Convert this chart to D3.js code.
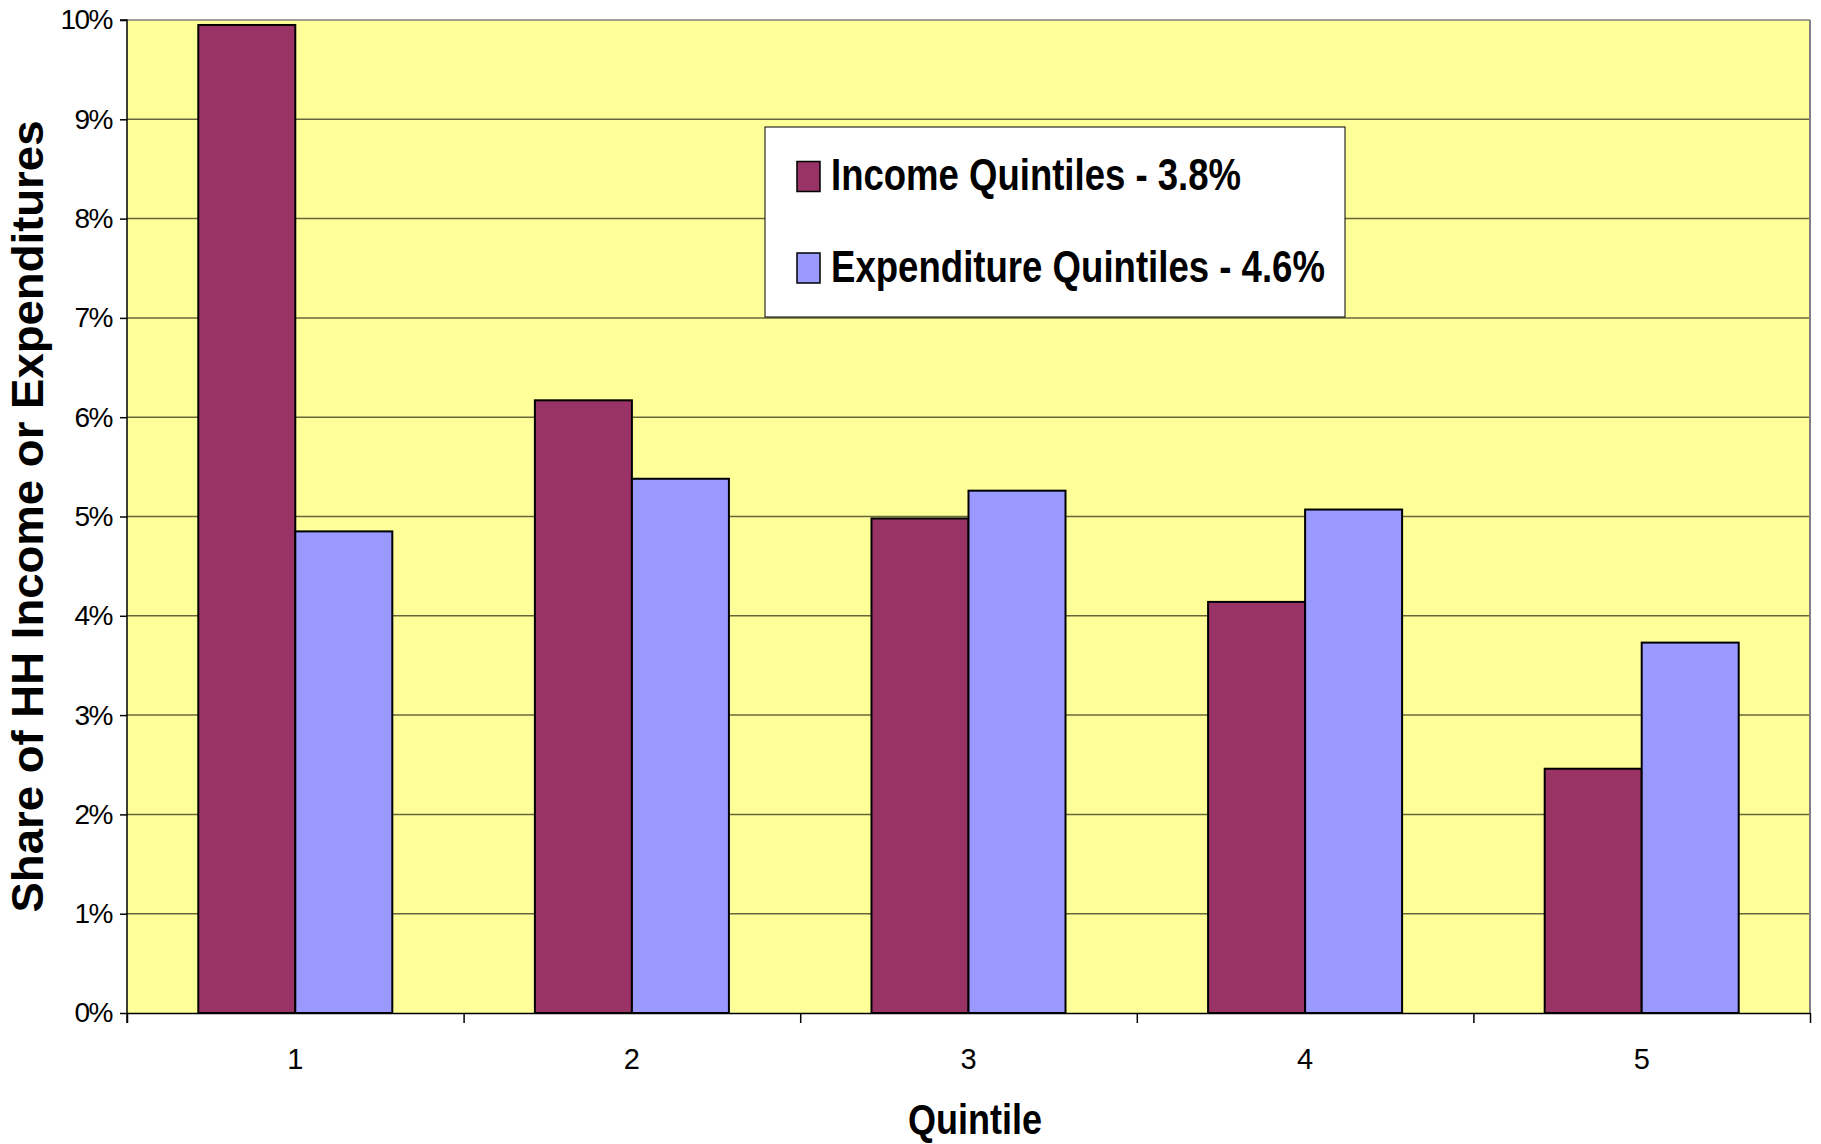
<!DOCTYPE html>
<html>
<head>
<meta charset="utf-8">
<script src="https://cdn.jsdelivr.net/npm/d3@7"></script>
<style>
  html, body { margin: 0; padding: 0; background: #ffffff; }
  svg { display: block; }
  text { font-family: "Liberation Sans", Arial, sans-serif; }
</style>
</head>
<body>
<svg id="chart" width="1821" height="1144"></svg>
<script>
// Quintile categories and the share values (percent) for each series
const quintiles = ["1", "2", "3", "4", "5"];
const incomeShare = [9.95, 6.17, 4.98, 4.14, 2.46];
const expenditureShare = [4.85, 5.38, 5.26, 5.07, 3.73];
const seriesNames = ["Income Quintiles - 3.8%", "Expenditure Quintiles - 4.6%"];
const yTicks = [0, 1, 2, 3, 4, 5, 6, 7, 8, 9, 10];
const yTitle = "Share of HH Income or Expenditures";
const xTitle = "Quintile";

const colors = ["#993366", "#9999FF"];
const series = [incomeShare, expenditureShare];

const svg = d3.select("#chart");
const plot = { left: 127, right: 1810, top: 20, bottom: 1013 };

const x = d3.scaleBand()
  .domain(quintiles)
  .range([plot.left, plot.right])
  .paddingInner(0.4236)
  .paddingOuter(0.2118);

const xSub = d3.scaleBand()
  .domain(d3.range(series.length))
  .range([0, x.bandwidth()]);

const y = d3.scaleLinear()
  .domain([0, 10])
  .range([plot.bottom, plot.top]);

// plot area background
svg.append("rect")
  .attr("x", plot.left).attr("y", plot.top)
  .attr("width", plot.right - plot.left).attr("height", plot.bottom - plot.top)
  .attr("fill", "#FFFF99");

// horizontal gridlines
svg.append("g")
  .selectAll("line")
  .data(yTicks.filter(d => d > 0))
  .join("line")
  .attr("x1", plot.left).attr("x2", plot.right)
  .attr("y1", d => y(d)).attr("y2", d => y(d))
  .attr("stroke", d => d === 10 ? "#808080" : "#000")
  .attr("stroke-opacity", d => d === 10 ? 1 : 0.6)
  .attr("stroke-width", 1.5);

// right border of plot area
svg.append("line")
  .attr("x1", plot.right).attr("x2", plot.right)
  .attr("y1", plot.top).attr("y2", plot.bottom)
  .attr("stroke", "#808080").attr("stroke-width", 2);

// bars
const groups = svg.append("g")
  .selectAll("g")
  .data(quintiles)
  .join("g")
  .attr("transform", d => `translate(${x(d)},0)`);

groups.selectAll("rect")
  .data((d, i) => series.map((s, k) => ({ k, v: s[i] })))
  .join("rect")
  .attr("x", d => xSub(d.k))
  .attr("width", xSub.bandwidth())
  .attr("y", d => y(d.v))
  .attr("height", d => y(0) - y(d.v))
  .attr("fill", d => colors[d.k])
  .attr("stroke", "#000")
  .attr("stroke-width", 2);

// y axis
const yAxis = svg.append("g")
  .attr("transform", `translate(${plot.left},0)`)
  .call(d3.axisLeft(y).tickValues(yTicks).tickFormat(d => d + "%").tickSize(7).tickPadding(8));
yAxis.select(".domain").attr("stroke", "#000").attr("stroke-width", 1.5)
  .attr("d", `M-7,${plot.top}H0V${plot.bottom + 10}`);
yAxis.selectAll(".tick line").attr("stroke", "#000").attr("stroke-width", 1.5);
yAxis.selectAll(".tick text")
  .attr("font-size", 28).attr("fill", "#000")
  .attr("letter-spacing", "-1.5px")
  .style("font-family", "'Liberation Sans', Arial, sans-serif");

// x axis: boundary ticks
const xEdges = d3.scaleLinear().domain([0, quintiles.length]).range([plot.left, plot.right]);
const xTickAxis = svg.append("g")
  .attr("transform", `translate(0,${plot.bottom})`)
  .call(d3.axisBottom(xEdges).tickValues(d3.range(quintiles.length + 1)).tickFormat("").tickSize(10).tickSizeOuter(0));
xTickAxis.select(".domain").attr("stroke", "#000").attr("stroke-width", 1.5);
xTickAxis.selectAll(".tick line").attr("stroke", "#000").attr("stroke-width", 1.5);

// x axis: category labels
const xLabelAxis = svg.append("g")
  .attr("transform", `translate(0,${plot.bottom})`)
  .call(d3.axisBottom(x).tickSize(0).tickPadding(35));
xLabelAxis.select(".domain").remove();
xLabelAxis.selectAll(".tick text")
  .attr("font-size", 29).attr("fill", "#000")
  .style("font-family", "'Liberation Sans', Arial, sans-serif");

// axis titles
svg.append("text")
  .attr("transform", `translate(43,${(plot.top + plot.bottom) / 2}) rotate(-90)`)
  .attr("text-anchor", "middle")
  .attr("font-size", 45).attr("font-weight", "bold")
  .attr("textLength", 792).attr("lengthAdjust", "spacingAndGlyphs")
  .text(yTitle);

svg.append("text")
  .attr("x", 975).attr("y", 1134)
  .attr("text-anchor", "middle")
  .attr("font-size", 42).attr("font-weight", "bold")
  .attr("textLength", 134).attr("lengthAdjust", "spacingAndGlyphs")
  .text(xTitle);

// legend
const legend = svg.append("g");
legend.append("rect")
  .attr("x", 765).attr("y", 127).attr("width", 580).attr("height", 190)
  .attr("fill", "#fff").attr("stroke", "#000").attr("stroke-width", 1);

const legendRows = [
  { name: seriesNames[0], color: colors[0], top: 161.5, base: 190, len: 410 },
  { name: seriesNames[1], color: colors[1], top: 253, base: 282, len: 494 }
];
legendRows.forEach(r => {
  legend.append("rect")
    .attr("x", 797).attr("y", r.top).attr("width", 23).attr("height", 30)
    .attr("fill", r.color).attr("stroke", "#000").attr("stroke-width", 1.5);
  legend.append("text")
    .attr("x", 831).attr("y", r.base)
    .attr("font-size", 44).attr("font-weight", "bold")
    .attr("textLength", r.len).attr("lengthAdjust", "spacingAndGlyphs")
    .text(r.name);
});
</script>
</body>
</html>
